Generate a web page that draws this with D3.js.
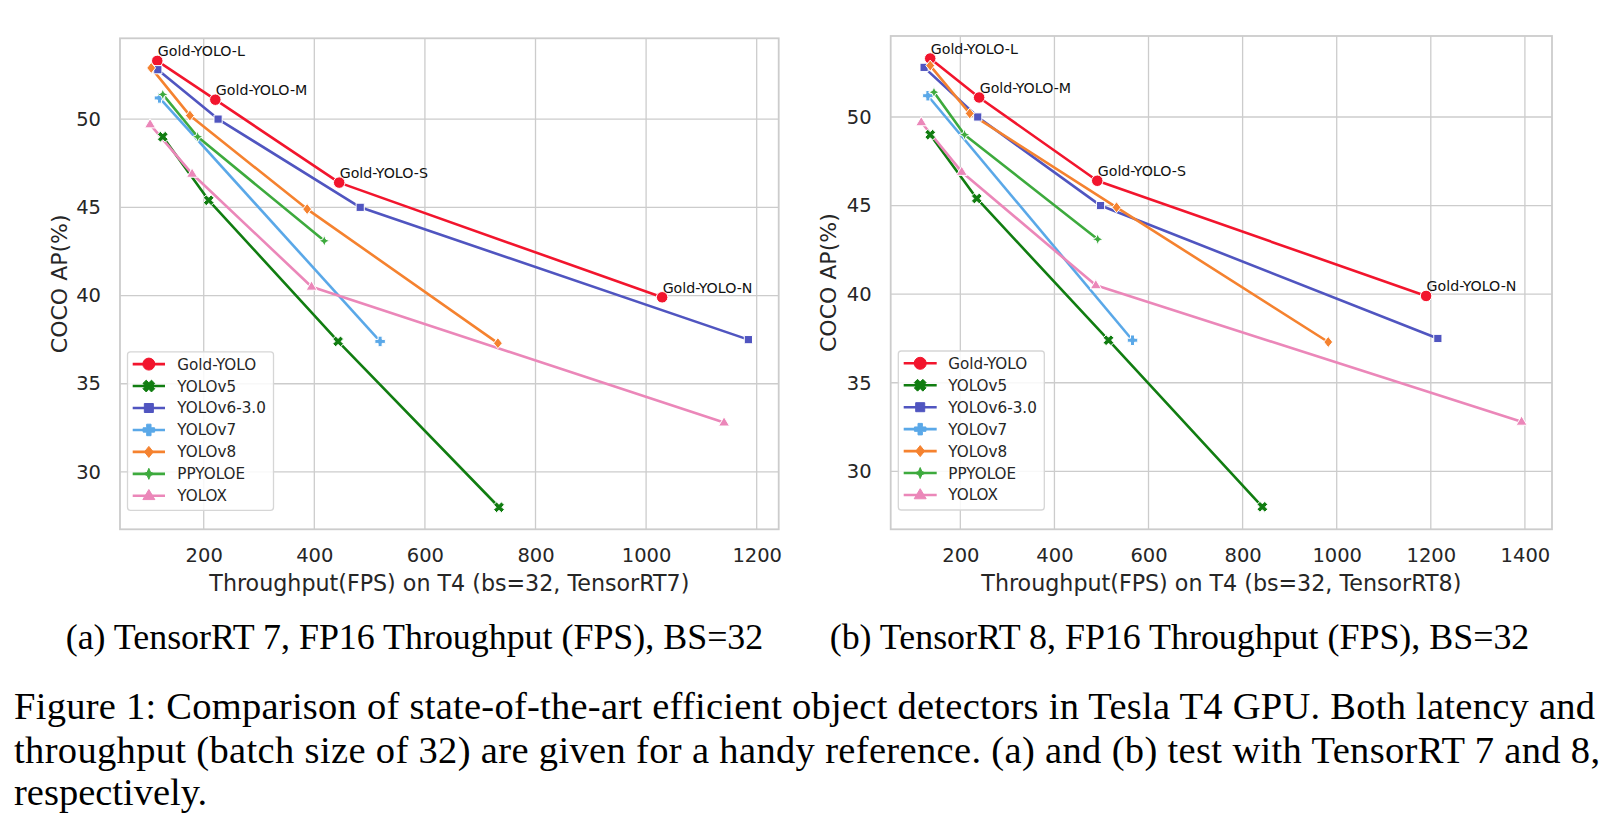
<!DOCTYPE html>
<html>
<head>
<meta charset="utf-8">
<script src="https://cdn.jsdelivr.net/npm/d3@7"></script>
<style>
  html, body { margin: 0; padding: 0; background: #fff; }
  svg { display: block; }
</style>
</head>
<body>
<svg id="fig" width="1612" height="825"></svg>
<script>
// ---------------- DATA ----------------
const models = ["Gold-YOLO", "YOLOv5", "YOLOv6-3.0", "YOLOv7", "YOLOv8", "PPYOLOE", "YOLOX"];
const goldLabels = ["Gold-YOLO-L", "Gold-YOLO-M", "Gold-YOLO-S", "Gold-YOLO-N"];

// COCO AP (%) per model (same in both panels)
const apGold = [53.3, 51.1, 46.4, 39.9];
const apV5   = [49.0, 45.4, 37.4, 28.0];
const apV6   = [52.8, 50.0, 45.0, 37.5];
const apV7   = [51.2, 37.4];
const apV8   = [52.9, 50.2, 44.9, 37.3];
const apPP   = [51.4, 49.0, 43.1];
const apX    = [49.7, 46.9, 40.5, 32.8];

// Throughput (FPS) on T4, TensorRT7
const fps7Gold = [116, 221, 445, 1029];
const fps7V5   = [126, 209, 443, 734];
const fps7V6   = [117, 226, 483, 1185];
const fps7V7   = [120, 519];
const fps7V8   = [105, 175, 387, 732];
const fps7PP   = [126, 189, 418];
const fps7X    = [103, 179, 395, 1141];

// Throughput (FPS) on T4, TensorRT8
const fps8Gold = [136, 240, 491, 1190];
const fps8V5   = [136, 235, 515, 842];
const fps8V6   = [123, 237, 498, 1215];
const fps8V7   = [131, 566];
const fps8V8   = [136, 220, 532, 982];
const fps8PP   = [144, 209, 492];
const fps8X    = [117, 203, 488, 1393];

const xTicks7 = [200, 400, 600, 800, 1000, 1200];
const xTicks8 = [200, 400, 600, 800, 1000, 1200, 1400];
const yTicks  = [30, 35, 40, 45, 50];

const xLabel7 = "Throughput(FPS) on T4 (bs=32, TensorRT7)";
const xLabel8 = "Throughput(FPS) on T4 (bs=32, TensorRT8)";
const yLabel  = "COCO AP(%)";
const subCaptions = ["(a) TensorRT 7, FP16 Throughput (FPS), BS=32", "(b) TensorRT 8, FP16 Throughput (FPS), BS=32"];
const captionLines = [
  "Figure 1: Comparison of state-of-the-art efficient object detectors in Tesla T4 GPU. Both latency and",
  "throughput (batch size of 32) are given for a handy reference. (a) and (b) test with TensorRT 7 and 8,",
  "respectively."
];

// ---------------- STYLE ----------------
const colors = ["#f2152d", "#117d11", "#5055c0", "#5aa8e8", "#f5822f", "#3daa3d", "#eb87b9"];
const markerKinds = ["circle", "X", "square", "P", "diamond", "star4", "triangle"];
const FONT = "'DejaVu Sans', sans-serif";
const TXT = "#262626";
const GRID = "#cccccc";

const apSets = [apGold, apV5, apV6, apV7, apV8, apPP, apX];
const fps7Sets = [fps7Gold, fps7V5, fps7V6, fps7V7, fps7V8, fps7PP, fps7X];
const fps8Sets = [fps8Gold, fps8V5, fps8V6, fps8V7, fps8V8, fps8PP, fps8X];

function markerPath(kind, s) {
  const h = s / 2;
  if (kind === "circle") return d3.symbol(d3.symbolCircle, Math.PI * h * h)();
  if (kind === "square") { const a = h * 0.82; return `M${-a},${-a}H${a}V${a}H${-a}Z`; }
  if (kind === "diamond") { const a = h * 1.0; return `M0,${-a}L${a * 0.8},0L0,${a}L${-a * 0.8},0Z`; }
  if (kind === "triangle") { const a = h * 1.05; return `M0,${-a}L${a * 0.95},${a * 0.6}L${-a * 0.95},${a * 0.6}Z`; }
  if (kind === "P" || kind === "X") {
    const e = h, w = h * 0.38;
    let pts = [[-w,-e],[w,-e],[w,-w],[e,-w],[e,w],[w,w],[w,e],[-w,e],[-w,w],[-e,w],[-e,-w],[-w,-w]];
    if (kind === "X") {
      const c = Math.SQRT1_2;
      pts = pts.map(([x, y]) => [(x - y) * c * 1.05, (x + y) * c * 1.05]);
    }
    return "M" + pts.map(p => p.join(",")).join("L") + "Z";
  }
  if (kind === "star4") {
    const e = h * 1.05, r = e * 0.42;
    const pts = [];
    for (let i = 0; i < 8; i++) {
      const ang = -Math.PI / 2 + i * Math.PI / 4;
      const rad = i % 2 === 0 ? e : r;
      pts.push([Math.cos(ang) * rad, Math.sin(ang) * rad]);
    }
    return "M" + pts.map(p => p.join(",")).join("L") + "Z";
  }
}
const markerSize = [11.5, 10.5, 10, 10.5, 11, 10.5, 11];
const legendMarkerSize = [12, 11.5, 11, 11.5, 11, 10.5, 12];

const svg = d3.select("#fig");

function panel(cfg) {
  const g = svg.append("g");
  const x = d3.scaleLinear().domain(cfg.xDomain).range([cfg.left, cfg.right]);
  const y = d3.scaleLinear().domain(cfg.yDomain).range([cfg.bottom, cfg.top]);

  // gridlines
  g.append("g").selectAll("line").data(cfg.xTicks).join("line")
    .attr("x1", d => x(d)).attr("x2", d => x(d))
    .attr("y1", cfg.top).attr("y2", cfg.bottom)
    .attr("stroke", GRID).attr("stroke-width", 1.3);
  g.append("g").selectAll("line").data(yTicks).join("line")
    .attr("y1", d => y(d)).attr("y2", d => y(d))
    .attr("x1", cfg.left).attr("x2", cfg.right)
    .attr("stroke", GRID).attr("stroke-width", 1.3);
  // spines
  g.append("rect").attr("x", cfg.left).attr("y", cfg.top)
    .attr("width", cfg.right - cfg.left).attr("height", cfg.bottom - cfg.top)
    .attr("fill", "none").attr("stroke", GRID).attr("stroke-width", 1.8);

  // axes (labels only) via d3 axes
  const xa = g.append("g").attr("transform", `translate(0,${cfg.bottom})`)
    .call(d3.axisBottom(x).tickValues(cfg.xTicks).tickSize(0).tickPadding(19).tickFormat(d3.format("d")));
  xa.select(".domain").remove();
  xa.selectAll("text").attr("font-family", FONT).attr("font-size", 19.5).attr("fill", TXT);
  const ya = g.append("g").attr("transform", `translate(${cfg.left},0)`)
    .call(d3.axisLeft(y).tickValues(yTicks).tickSize(0).tickPadding(cfg.left - cfg.yTickRight).tickFormat(d3.format("d")));
  ya.select(".domain").remove();
  ya.selectAll("text").attr("font-family", FONT).attr("font-size", 19.5).attr("fill", TXT);

  // axis titles
  g.append("text").attr("x", (cfg.left + cfg.right) / 2).attr("y", cfg.xLabelY)
    .attr("text-anchor", "middle").attr("font-family", FONT).attr("font-size", 22.2)
    .attr("fill", TXT).text(cfg.xLabel);
  g.append("text").attr("transform", `translate(${cfg.yLabelX},${(cfg.top + cfg.bottom) / 2}) rotate(-90)`)
    .attr("text-anchor", "middle").attr("font-family", FONT).attr("font-size", 22)
    .attr("fill", TXT).text(yLabel);

  // series
  const line = d3.line().x(d => x(d[0])).y(d => y(d[1]));
  models.forEach((m, i) => {
    const pts = cfg.fps[i].map((f, j) => [f, apSets[i][j]]);
    g.append("path").datum(pts).attr("d", line)
      .attr("fill", "none").attr("stroke", colors[i]).attr("stroke-width", 2.6)
      .attr("stroke-linejoin", "round");
  });
  models.forEach((m, i) => {
    const pts = cfg.fps[i].map((f, j) => [f, apSets[i][j]]);
    g.append("g").selectAll("path").data(pts).join("path")
      .attr("transform", d => `translate(${x(d[0])},${y(d[1])})`)
      .attr("d", markerPath(markerKinds[i], markerSize[i]))
      .attr("fill", colors[i]).attr("stroke", "#fff").attr("stroke-width", 1);
  });

  // Gold-YOLO annotations
  g.append("g").selectAll("text").data(cfg.fps[0].map((f, j) => [f, apGold[j], goldLabels[j]])).join("text")
    .attr("x", d => x(d[0]) + 0.5).attr("y", d => y(d[1]) - 4.5)
    .attr("font-family", FONT).attr("font-size", 14.2).attr("fill", "#111")
    .text(d => d[2]);

  // legend
  const L = cfg.legend;
  const lg = g.append("g");
  lg.append("rect").attr("x", L.x).attr("y", L.y).attr("width", L.w).attr("height", L.h)
    .attr("rx", 3).attr("fill", "#fff").attr("fill-opacity", 0.85)
    .attr("stroke", "#d6d6d6").attr("stroke-width", 1.3);
  const rowY = d3.scalePoint().domain(models).range([L.y + 12.3, L.y + 144]);
  models.forEach((m, i) => {
    const ry = rowY(m);
    lg.append("line").attr("x1", L.hx0).attr("x2", L.hx1).attr("y1", ry).attr("y2", ry)
      .attr("stroke", colors[i]).attr("stroke-width", 2.6);
    lg.append("path").attr("transform", `translate(${(L.hx0 + L.hx1) / 2},${ry})`)
      .attr("d", markerPath(markerKinds[i], legendMarkerSize[i]))
      .attr("fill", colors[i]).attr("stroke", colors[i]).attr("stroke-width", 1);
    lg.append("text").attr("x", L.tx).attr("y", ry).attr("dy", "0.36em")
      .attr("font-family", FONT).attr("font-size", 15.2).attr("fill", TXT).text(m);
  });
}

panel({
  left: 120, right: 778.7, top: 38.3, bottom: 529.3,
  xDomain: [48.6, 1239.8], yDomain: [26.75, 54.58],
  xTicks: xTicks7, fps: fps7Sets, xLabel: xLabel7,
  yTickRight: 101, xLabelY: 591, yLabelX: 66.5,
  legend: { x: 127.5, y: 351.8, w: 146, h: 158.5, hx0: 132.7, hx1: 165, tx: 177.3 }
});
panel({
  left: 890.7, right: 1552, top: 36, bottom: 529.3,
  xDomain: [52, 1457.6], yDomain: [26.73, 54.57],
  xTicks: xTicks8, fps: fps8Sets, xLabel: xLabel8,
  yTickRight: 871.7, xLabelY: 591, yLabelX: 836,
  legend: { x: 898.3, y: 351, w: 146, h: 159, hx0: 903.7, hx1: 936.7, tx: 948.3 }
});

// captions
const SERIF = "'Liberation Serif', 'Times New Roman', serif";
svg.append("text").attr("x", 65.7).attr("y", 649.3).attr("font-family", SERIF).attr("font-size", 35.9)
  .attr("fill", "#000").text(subCaptions[0]);
svg.append("text").attr("x", 829.7).attr("y", 649.3).attr("font-family", SERIF).attr("font-size", 35.9)
  .attr("fill", "#000").text(subCaptions[1]);
const capY = [719, 762.5, 805];
const capLen = [1581, 1586, null];
captionLines.forEach((t, i) => {
  const el = svg.append("text").attr("x", 14).attr("y", capY[i]).attr("font-family", SERIF)
    .attr("font-size", 38.5).attr("fill", "#000").text(t);
  if (capLen[i]) el.attr("textLength", capLen[i]).attr("lengthAdjust", "spacing");
});
</script>
</body>
</html>
